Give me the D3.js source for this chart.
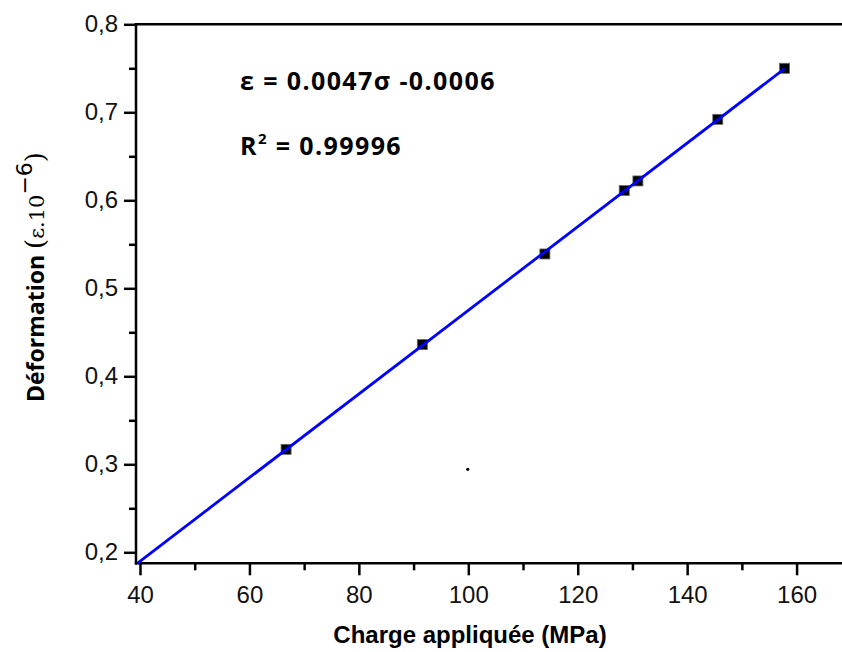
<!DOCTYPE html>
<html>
<head>
<meta charset="utf-8">
<script src="https://cdn.jsdelivr.net/npm/d3@7"></script>
<style>
  body { margin: 0; background: #fff; }
  svg { display: block; }
</style>
</head>
<body>
<svg id="svg" width="842" height="652"></svg>
<script>
// measured points (charge in MPa, deformation)
var charge = [66.7, 91.6, 114.0, 128.5, 131.0, 145.6, 157.8];
var deformation = [0.317, 0.436, 0.539, 0.611, 0.622, 0.692, 0.750];

var xTicks = [40, 60, 80, 100, 120, 140, 160];
var yTicks = [0.2, 0.3, 0.4, 0.5, 0.6, 0.7, 0.8];
var xMinor = [50, 70, 90, 110, 130, 150];
var yMinor = [0.25, 0.35, 0.45, 0.55, 0.65, 0.75];

// the small stray dot in the middle of the plot
var strayDot = [{x: 99.9, y: 0.2943}];

var eqText = "ε = 0.0047σ -0.0006";
var r2Value = "0.99996";

var svg = d3.select("#svg");

// plot box edges (careful: "top" is taken by window.top)
var pLeft = 136, pRight = 842, pTop = 24.3, pBottom = 563.3;

var x = d3.scaleLinear().domain([39.27, 168.3]).range([pLeft, pRight]);
var y = d3.scaleLinear().domain([0.1875, 0.8]).range([pBottom, pTop]);

var fmt = function(d){ return d3.format(".1f")(d).replace(".", ","); };

// minor ticks first, majors on top
var gxm = svg.append("g").attr("transform", "translate(0," + pBottom + ")")
  .call(d3.axisBottom(x).tickValues(xMinor).tickSize(7).tickFormat(""));
var gym = svg.append("g").attr("transform", "translate(" + pLeft + ",0)")
  .call(d3.axisLeft(y).tickValues(yMinor).tickSize(7).tickFormat(""));

var gx = svg.append("g").attr("transform", "translate(0," + pBottom + ")")
  .call(d3.axisBottom(x).tickValues(xTicks).tickSize(12).tickPadding(11).tickFormat(d3.format("d")));
var gy = svg.append("g").attr("transform", "translate(" + pLeft + ",0)")
  .call(d3.axisLeft(y).tickValues(yTicks).tickSize(12).tickPadding(6).tickFormat(fmt));

[gxm, gym, gx, gy].forEach(function(g){
  g.selectAll(".domain").remove();
  g.selectAll(".tick line").attr("stroke", "#000").attr("stroke-width", 2.5);
  g.selectAll(".tick text")
    .attr("fill", "#111")
    .style("font-family", "'Liberation Sans', Arial, sans-serif")
    .style("font-size", "24px");
});

// frame lines (left, bottom, top)
svg.append("line").attr("x1", pLeft).attr("x2", pLeft).attr("y1", pTop - 1.2).attr("y2", pBottom + 1.2)
  .attr("stroke", "#000").attr("stroke-width", 2.5);
svg.append("line").attr("x1", pLeft - 1.2).attr("x2", pRight).attr("y1", pBottom).attr("y2", pBottom)
  .attr("stroke", "#000").attr("stroke-width", 2.5);
svg.append("line").attr("x1", pLeft - 1.2).attr("x2", pRight).attr("y1", pTop).attr("y2", pTop)
  .attr("stroke", "#000").attr("stroke-width", 2.5);

// least squares fit through the points
var n = charge.length;
var mx = d3.mean(charge), my = d3.mean(deformation);
var sxy = 0, sxx = 0;
for (var i = 0; i < n; i++){
  sxy += (charge[i] - mx) * (deformation[i] - my);
  sxx += (charge[i] - mx) * (charge[i] - mx);
}
var slope = sxy / sxx, icpt = my - slope * mx;
var x0 = Math.max(x.domain()[0], (y.domain()[0] - icpt) / slope);
var x1 = d3.max(charge);

var pts = charge.map(function(c, i){ return {x: c, y: deformation[i]}; });
svg.selectAll("rect.pt").data(pts).enter().append("rect")
  .attr("class", "pt")
  .attr("x", function(d){ return x(d.x) - 5; })
  .attr("y", function(d){ return y(d.y) - 5; })
  .attr("width", 10).attr("height", 10)
  .attr("fill", "#000").attr("stroke", "#666").attr("stroke-width", 0.8);

// fit line over the markers
svg.append("line")
  .attr("x1", x(x0)).attr("y1", y(icpt + slope * x0))
  .attr("x2", x(x1)).attr("y2", y(icpt + slope * x1))
  .attr("stroke", "#0000ff").attr("stroke-width", 2.8);

svg.selectAll("circle.stray").data(strayDot).enter().append("circle")
  .attr("class", "stray")
  .attr("cx", function(d){ return x(d.x); })
  .attr("cy", function(d){ return y(d.y); })
  .attr("r", 1.6).attr("fill", "#000");

// annotations
var annFont = "'Open Sans', Lato, sans-serif";
svg.append("text").attr("x", 240).attr("y", 90)
  .style("font-family", annFont).style("font-weight", "bold").style("font-size", "25px")
  .style("letter-spacing", "1.4px")
  .text(eqText);

var r2 = svg.append("text").attr("x", 240).attr("y", 155)
  .style("font-family", annFont).style("font-weight", "bold").style("font-size", "25px")
  .style("letter-spacing", "1.4px");
r2.append("tspan").text("R");
r2.append("tspan").attr("dy", -11).style("font-size", "15px").text("2");
r2.append("tspan").attr("dy", 11).text(" = " + r2Value);

// axis titles
svg.append("text")
  .attr("x", 470).attr("y", 643)
  .attr("text-anchor", "middle")
  .style("font-family", "'Liberation Sans', Arial, sans-serif")
  .style("font-weight", "bold").style("font-size", "24px")
  .text("Charge appliquée (MPa)");

var yl = svg.append("text")
  .attr("transform", "translate(44,277) rotate(-90)")
  .attr("text-anchor", "middle")
  .style("font-family", annFont).style("font-size", "23px");
yl.append("tspan").style("font-weight", "bold").text("Déformation ");
yl.append("tspan").style("font-family", "'DejaVu Serif', serif").style("font-size", "26px").text("(");
yl.append("tspan").style("font-family", "'DejaVu Serif', serif").style("font-size", "21px").text("ε.10");
yl.append("tspan").attr("dy", -12).style("font-family", "'DejaVu Sans', sans-serif").style("font-size", "22px").text("−6");
yl.append("tspan").attr("dy", 12).style("font-family", "'DejaVu Serif', serif").style("font-size", "26px").text(")");
</script>
</body>
</html>
